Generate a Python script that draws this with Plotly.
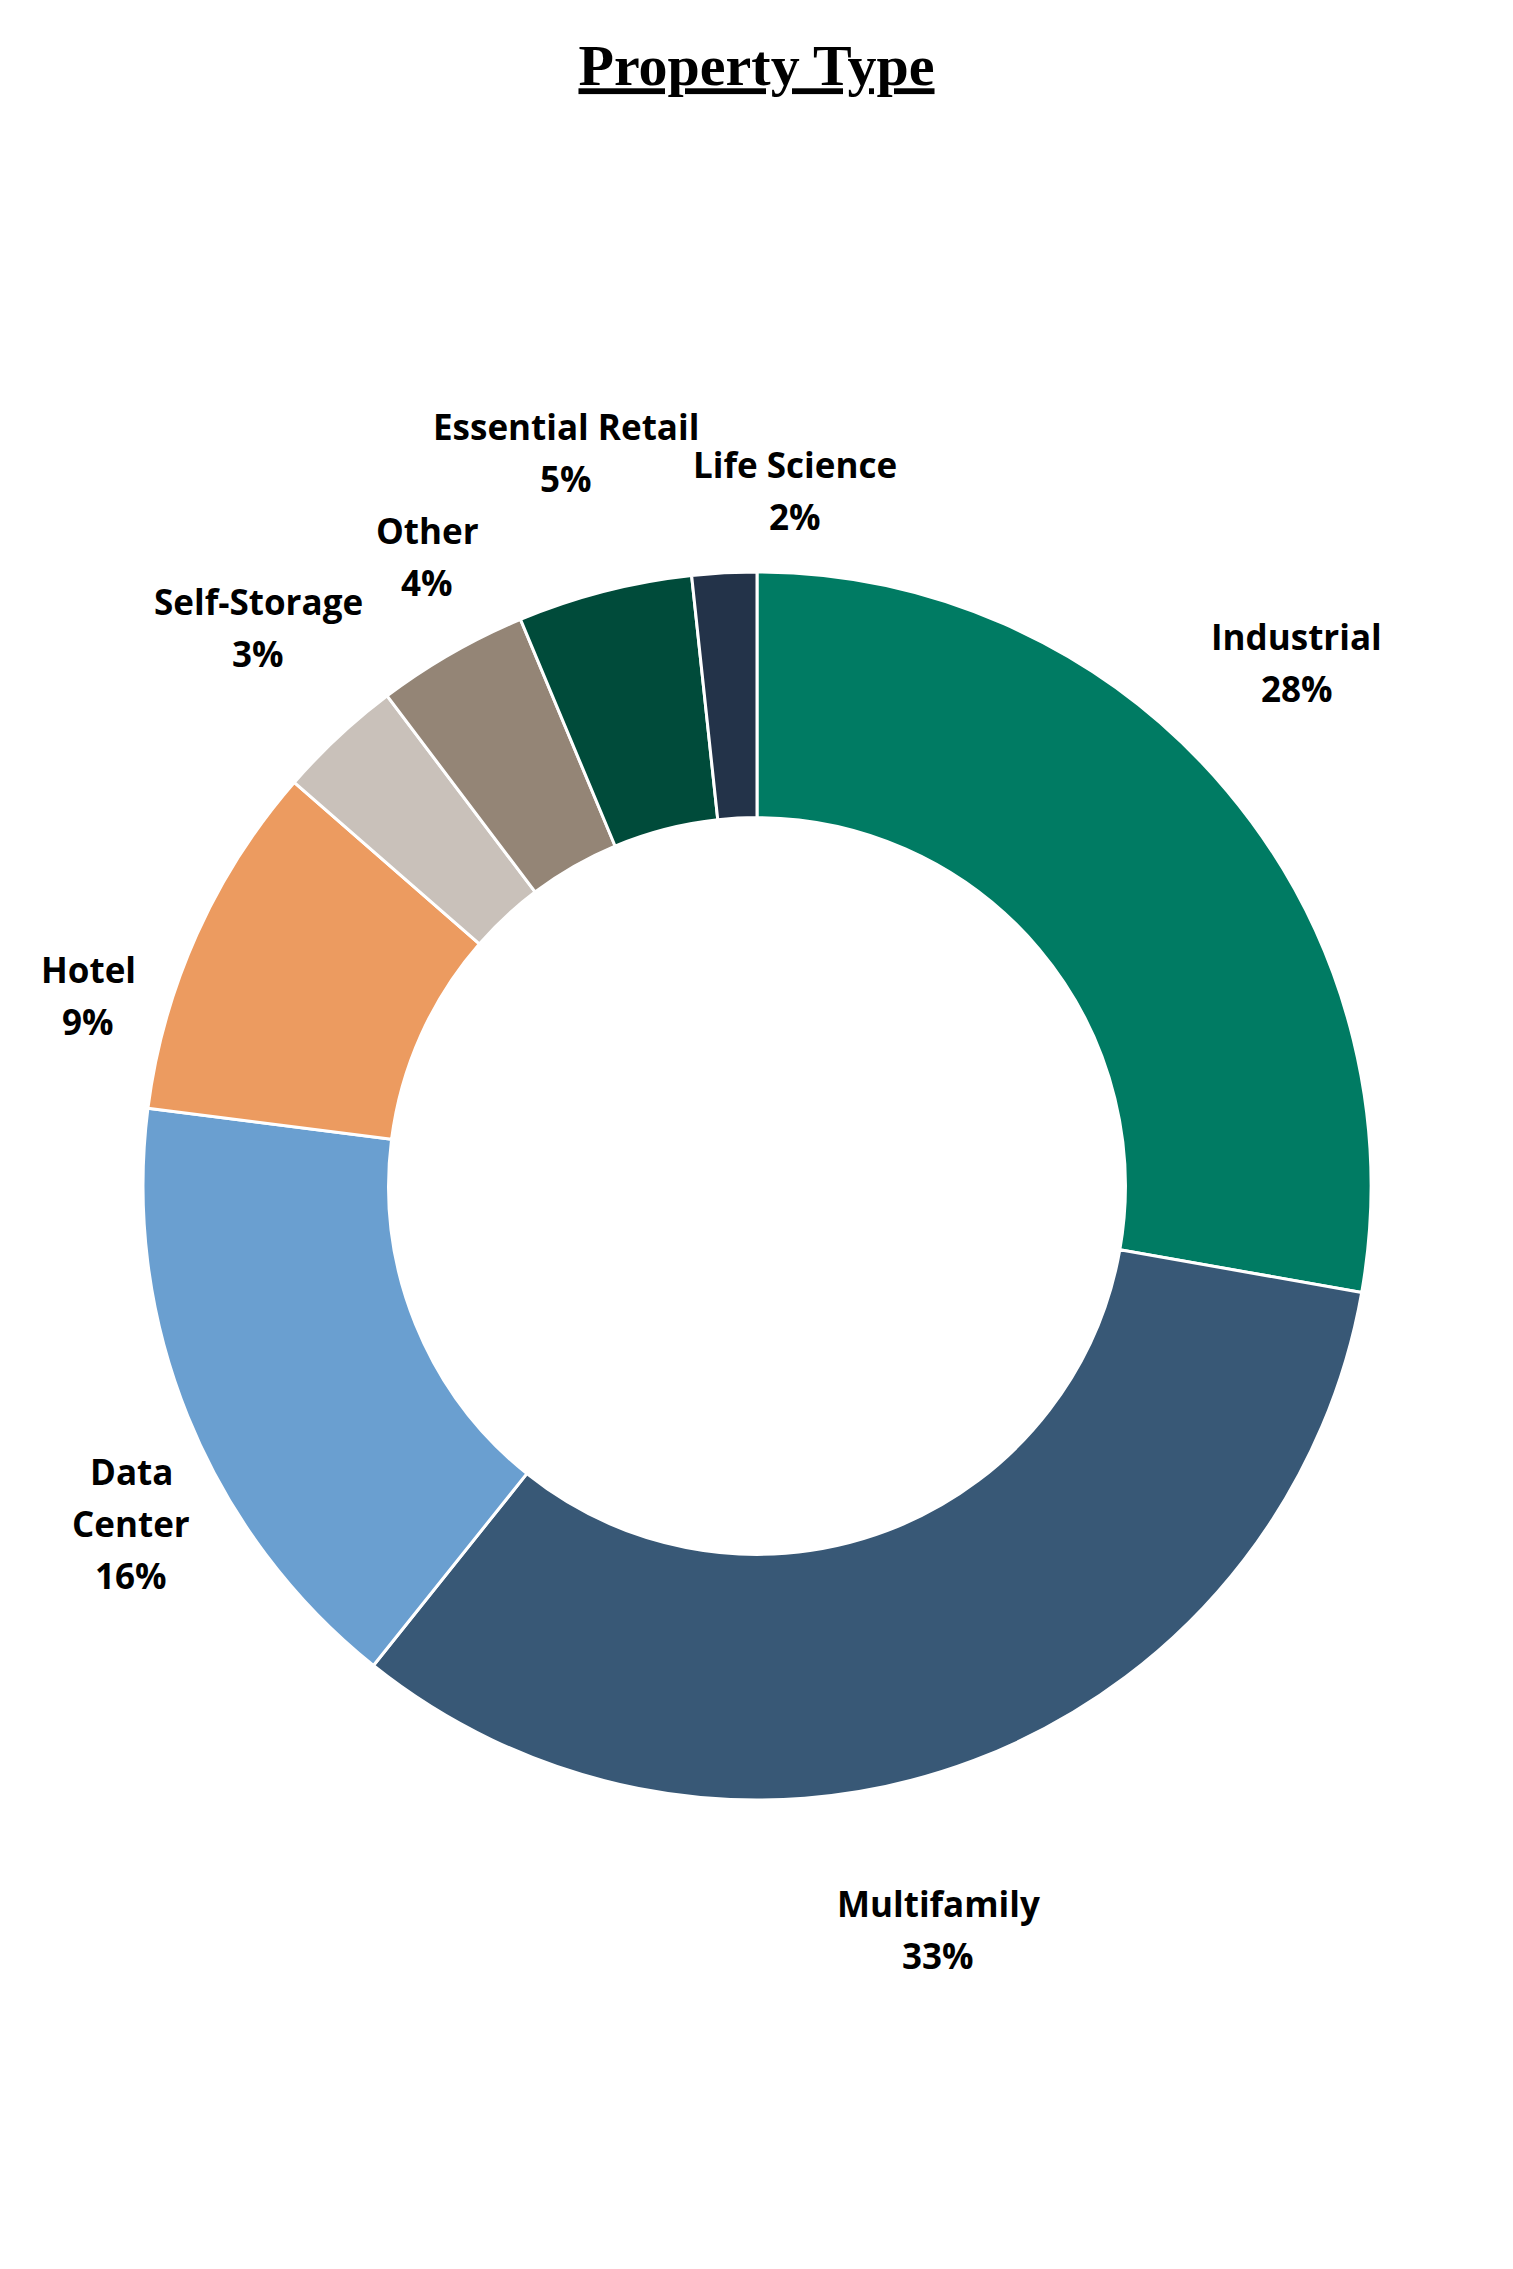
import math
import plotly.graph_objects as go

# ---- data ----
categories = ["Industrial", "Multifamily", "Data Center", "Hotel",
              "Self-Storage", "Other", "Essential Retail", "Life Science"]
label_text = ["Industrial", "Multifamily", "Data<br>Center", "Hotel",
              "Self-Storage", "Other", "Essential Retail", "Life Science"]
values = [27.8, 33.0, 16.3, 9.4, 3.3, 4.0, 4.6, 1.7]
colors = ["#007B63", "#385876", "#6A9FD0", "#EC9B60",
          "#C9C1BA", "#948576", "#004B3A", "#233349"]

# label placement (style): angular nudge in degrees, radius as multiple of R
label_shift_deg = [-4.1, 7.0, -6.3, -8.3, 1.2, 2.2, -0.2, 6.2]
label_radius = [1.224, 1.247, 1.158, 1.132, 1.219, 1.158, 1.235, 1.134]

W, H = 1513, 2269
dom_x = [143 / W, 1371 / W]
dom_y = [1 - 1801 / H, 1 - 571 / H]
LINE = 52  # px between label lines

fig = go.Figure(go.Pie(
    labels=categories,
    values=values,
    hole=0.6,
    sort=False,
    direction="clockwise",
    rotation=0,
    marker=dict(colors=colors, line=dict(color="white", width=3)),
    textinfo="none",
    hoverinfo="label+percent",
    showlegend=False,
    domain=dict(x=dom_x, y=dom_y),
))

cx = (dom_x[0] + dom_x[1]) / 2 * W
cy = (1 - (dom_y[0] + dom_y[1]) / 2) * H
R = min((dom_x[1] - dom_x[0]) * W, (dom_y[1] - dom_y[0]) * H) / 2
total = sum(values)
cum = 0.0
annotations = []
for lab, v, dshift, rk in zip(label_text, values, label_shift_deg, label_radius):
    mid = (cum + v / 2) / total * 2 * math.pi + math.radians(dshift)
    cum += v
    r = R * rk
    px = cx + r * math.sin(mid)
    py = cy - r * math.cos(mid)
    pct = v / total * 100
    lines = lab.split("<br>") + [f"{pct:.0f}%"]
    n = len(lines)
    for i, line in enumerate(lines):
        ly = py + (i - (n - 1) / 2) * LINE
        annotations.append(dict(
            x=px / W, y=1 - ly / H, xref="paper", yref="paper",
            text=f"<b>{line}</b>", showarrow=False,
            xanchor="center", yanchor="middle", align="center",
            font=dict(family="Open Sans", size=35, color="#000000"),
        ))

fig.update_layout(
    width=W, height=H,
    margin=dict(l=0, r=0, t=0, b=0),
    paper_bgcolor="white", plot_bgcolor="white",
    title=dict(text="<u><b>Property Type</b></u>", x=0.5, xanchor="center",
               y=1 - 65 / H, yanchor="middle",
               font=dict(family="Liberation Serif", size=58, color="#000000")),
    annotations=annotations,
)

fig.write_html("out.html")
